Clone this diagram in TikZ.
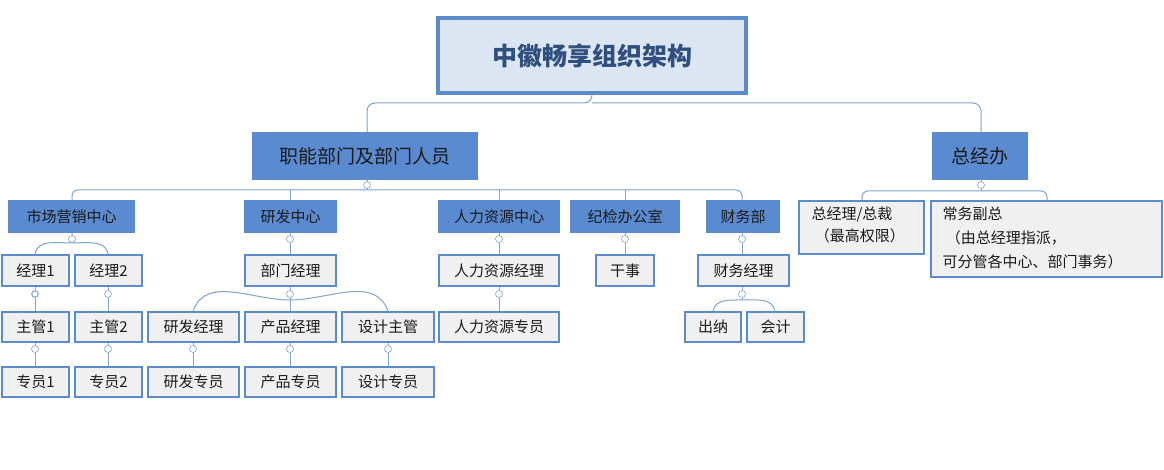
\documentclass[tikz,border=0pt]{standalone}
\usepackage{fontspec}
\setmainfont{Noto Sans CJK SC}
\begin{document}
\begin{tikzpicture}[x=1pt,y=-1pt,
  ln/.style={draw=lc,line width=1pt},
  dot/.style={circle,draw=lc,fill=white,line width=0.6pt,inner sep=0pt,minimum size=7pt},
  tb/.style={draw=bd,fill=tf,line width=3.5pt,inner sep=0pt,font=\fontsize{25}{28}\selectfont\bfseries,text=tt},
  b1/.style={fill=bf,inner sep=0pt,font=\fontsize{19}{22}\selectfont,text=txt},
  b2/.style={fill=bf,inner sep=0pt,font=\fontsize{15}{18}\selectfont,text=txt},
  gb/.style={draw=bd,fill=gf,line width=2.5pt,inner sep=0pt,font=\fontsize{15}{18}\selectfont,text=txt},
]
\definecolor{lc}{HTML}{7FA3D3}
\definecolor{bd}{HTML}{5B8BCB}
\definecolor{tf}{HTML}{DCE6F2}
\definecolor{tt}{HTML}{2F4F7F}
\definecolor{bf}{HTML}{5A8AD0}
\definecolor{gf}{HTML}{F0F0F0}
\definecolor{txt}{HTML}{1A1A1A}
\useasboundingbox (0,0) rectangle (1164,470);
\fill[white] (0,0) rectangle (1164,470);
% helper: box by corners
\def\bx#1#2#3#4#5#6#7{\node[#1,minimum width=#4-#3,minimum height=#6-#5] (#2) at ({(#3+#4)/2},{(#5+#6)/2}) {#7};}
% connectors first
\coordinate (rt) at (592,95);
\coordinate (h1) at (367,103);
\draw[ln,rounded corners=8pt] (592,95)--(592,103)--(367,103)--(367,132);
\draw[ln,rounded corners=8pt] (592,103)--(981,103)--(981,132);
% under 职能
\draw[ln,rounded corners=6pt] (72,200)--(72,190)--(742,190)--(742,200);
\draw[ln] (290,190)--(290,200) (499,190)--(499,200) (625,190)--(625,200) (367,180)--(367,190);
% under 总经办
\draw[ln,rounded corners=6pt] (862,200)--(862,191)--(1047,191)--(1047,200);
\draw[ln] (981,180)--(981,191);
% 市场营销
\draw[ln] (72,233)--(72,243) (72,243) to[out=180,in=80] (35,254) (72,243) to[out=0,in=100] (108,254);
\draw[ln] (35,287)--(35,311) (108,287)--(108,311) (35,343)--(35,366) (108,343)--(108,366);
% 研发
\draw[ln] (290,233)--(290,254) (290,287)--(290,311);
\draw[ln] (290,300) to[out=180,in=70] (193,311) (290,300) to[out=0,in=110] (388,311);
\draw[ln] (193,343)--(193,366) (290,343)--(290,366) (388,343)--(388,366);
% HR
\draw[ln] (499,233)--(499,254) (499,287)--(499,311);
\draw[ln] (625,233)--(625,254);
% 财务
\draw[ln] (742,233)--(742,254) (742,287)--(742,300);
\draw[ln] (742,300) to[out=180,in=80] (713,311) (742,300) to[out=0,in=100] (775,311);
% boxes
\bx{tb}{root}{438}{746}{18}{93}{中徽畅享组织架构}
\bx{b1}{zn}{252}{478}{132}{180}{职能部门及部门人员}
\bx{b1}{zj}{932}{1028}{132}{180}{总经办}
\bx{b2}{sc}{8}{135}{200}{233}{市场营销中心}
\bx{b2}{yf}{244}{337}{200}{233}{研发中心}
\bx{b2}{hr}{438}{560}{200}{233}{人力资源中心}
\bx{b2}{jj}{570}{680}{200}{233}{纪检办公室}
\bx{b2}{cw}{706}{780}{200}{233}{财务部}
\bx{gb}{j1}{2}{69}{255}{286}{经理1}
\bx{gb}{j2}{75}{142}{255}{286}{经理2}
\bx{gb}{bm}{245}{336}{255}{286}{部门经理}
\bx{gb}{hrj}{439}{559}{255}{286}{人力资源经理}
\bx{gb}{gs}{596}{654}{255}{286}{干事}
\bx{gb}{cwj}{698}{789}{255}{286}{财务经理}
\bx{gb}{z1}{2}{69}{312}{342}{主管1}
\bx{gb}{z2}{75}{142}{312}{342}{主管2}
\bx{gb}{yfj}{148}{239}{312}{342}{研发经理}
\bx{gb}{cpj}{245}{336}{312}{342}{产品经理}
\bx{gb}{sjz}{342}{434}{312}{342}{设计主管}
\bx{gb}{hrz}{439}{559}{312}{342}{人力资源专员}
\bx{gb}{cn}{685}{741}{312}{342}{出纳}
\bx{gb}{kj}{747}{804}{312}{342}{会计}
\bx{gb}{y1}{2}{69}{367}{397}{专员1}
\bx{gb}{y2}{75}{142}{367}{397}{专员2}
\bx{gb}{yfz}{148}{239}{367}{397}{研发专员}
\bx{gb}{cpz}{245}{336}{367}{397}{产品专员}
\bx{gb}{sjzy}{342}{434}{367}{397}{设计专员}
\bx{gb}{zjl}{799}{924}{201}{254}{}
\bx{gb}{cwf}{931}{1162}{201}{277}{}
\node[font=\fontsize{15}{22}\selectfont,text=txt,align=left,anchor=north west] at (808,203) {总经理/总裁\\\ （最高权限）};
\node[font=\fontsize{15}{24}\selectfont,text=txt,align=left,anchor=north west] at (939,203) {常务副总\\\ （由总经理指派，\\可分管各中心、部门事务）};
% dots
\foreach \p in {(367,185),(981,185),(72,239),(290,239),(499,239),(625,239),(742,239),
  (35,294),(108,294),(290,294),(499,294),(742,294),
  (35,349),(108,349),(193,349),(290,349),(388,349)}
  \node[dot] at \p {};
\foreach \p in {(35,349)} {}
\node[dot,minimum size=6pt] at (35,294) {};
\end{tikzpicture}
\end{document}
